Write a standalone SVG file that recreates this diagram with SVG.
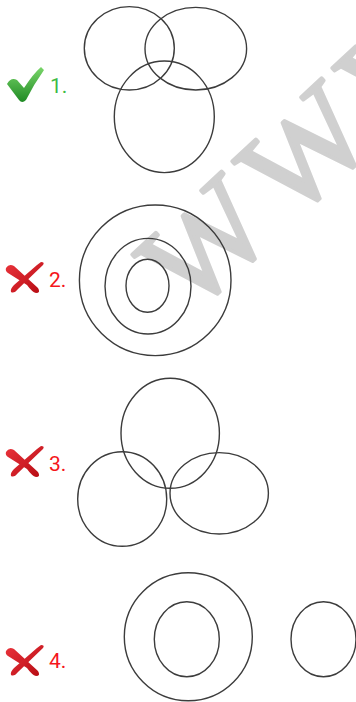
<svg xmlns="http://www.w3.org/2000/svg" width="356" height="702" viewBox="0 0 356 702">
<style>
.c{fill:none;stroke:#3c3c3c;stroke-width:1.4}
.ok{font-family:Roboto,"Liberation Sans",sans-serif;font-size:21px;fill:#3dbb45}
.no{font-family:Roboto,"Liberation Sans",sans-serif;font-size:21px;fill:#f5161c}
.wm{font-family:"Liberation Serif",serif;font-size:130px;letter-spacing:14px;fill:#d0d0d0;stroke:#d0d0d0;stroke-width:3.5;stroke-linejoin:round}
</style>
<defs>
<linearGradient id="gg" x1="0" y1="0" x2="0" y2="1">
<stop offset="0" stop-color="#7ad66a"/><stop offset="1" stop-color="#1f8a24"/>
</linearGradient>
<linearGradient id="rg" x1="0" y1="0" x2="1" y2="1">
<stop offset="0" stop-color="#e8323a"/><stop offset="1" stop-color="#b80d14"/>
</linearGradient>
<g id="cross">
<path d="M1,6 Q4,1 9,4 L33,26 Q36,31 31,31 Q27,30 22,23 L3,11 Q0,9 1,6 Z" fill="url(#rg)"/>
<path d="M36,0 Q40,0 38,3 L13,27 Q9,32 6,30 Q5,27 9,23 L32,3 Z" fill="url(#rg)"/>
</g>
</defs>
<g id="watermark">
<text class="wm" transform="translate(190,317) rotate(-43)">WWW</text>
</g>
<g id="item1">
<path d="M7,84 Q11,77 17,80 L24,88 Q33,74 41,67 L44,70 Q34,84 26,100 Q22,104 19,100 Z" fill="url(#gg)"/>
<text class="ok" x="50" y="92.5">1.</text>
<ellipse class="c" cx="129.3" cy="48.3" rx="45" ry="41.7"/>
<ellipse class="c" cx="195.8" cy="48.7" rx="50.8" ry="41.3"/>
<ellipse class="c" cx="164.3" cy="116.8" rx="50" ry="55.8"/>
</g>
<g id="item2">
<use href="#cross" x="5" y="262"/>
<text class="no" x="49" y="287">2.</text>
<ellipse class="c" cx="155.2" cy="280.3" rx="75.8" ry="75.3"/>
<ellipse class="c" cx="148" cy="286.2" rx="43" ry="47.8"/>
<ellipse class="c" cx="147.5" cy="285.8" rx="21.5" ry="26.5"/>
</g>
<g id="item3">
<use href="#cross" x="5" y="446"/>
<text class="no" x="49" y="471">3.</text>
<ellipse class="c" cx="170.2" cy="433.3" rx="49.2" ry="55"/>
<ellipse class="c" cx="122.2" cy="499" rx="44.5" ry="47.3"/>
<ellipse class="c" cx="219.2" cy="493.3" rx="49.2" ry="40.7"/>
</g>
<g id="item4">
<use href="#cross" x="5" y="645"/>
<text class="no" x="49" y="668">4.</text>
<ellipse class="c" cx="188.3" cy="636.7" rx="64" ry="64"/>
<ellipse class="c" cx="186.8" cy="639.2" rx="32.5" ry="37.5"/>
<ellipse class="c" cx="323.5" cy="639.2" rx="32.5" ry="37.5"/>
</g>
</svg>
